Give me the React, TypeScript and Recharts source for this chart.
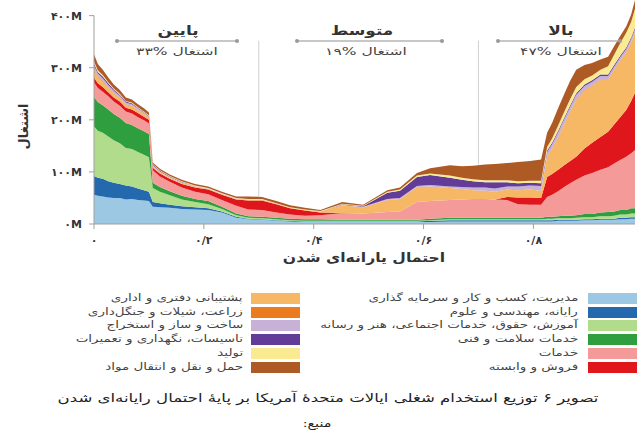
import React from 'react';
import { AreaChart, Area, XAxis, YAxis, ReferenceLine } from 'recharts';

// probability of computerisation (x positions)
const probability = [
  0, 0.007, 0.016, 0.026, 0.036, 0.047, 0.058, 0.069, 0.08, 0.091, 0.1,
  0.107, 0.12, 0.138, 0.16, 0.184, 0.208, 0.233, 0.259, 0.281, 0.306, 0.332, 0.357, 0.384, 0.412,
  0.452, 0.49, 0.534, 0.557, 0.588, 0.612, 0.648, 0.67, 0.69, 0.712, 0.73, 0.752, 0.772, 0.794, 0.814,
  0.825, 0.834, 0.845, 0.856, 0.867, 0.878, 0.893, 0.907, 0.922, 0.936, 0.947, 0.958, 0.969, 0.978, 0.985,
];

// employment per occupation group (millions)
const management = [56,54,53,51,50,50,47,48,46,45,44, 33,32,31,29,28,27,22,12,9,8,6,5,4,4, 4,4,4,4,4,4,5,5,5,5,5,5,5,5,5, 5,5,6,6,6,6,7,7,8,8,8,9,9,10,10];
const computer = [36,35,34,31,29,27,27,24,22,20,18, 9,8,6,5,4,3,2,2,1,1,1,1,1,1, 1,1,1,1,1,2,2,2,2,2,2,2,2,2,2, 2,2,2,2,2,2,2,2,2,2,2,3,3,3,3];
const education = [95,90,88,86,82,78,72,72,70,68,66, 27,22,18,13,10,8,5,3,2,2,2,1,1,1, 1,1,1,1,1,1,2,2,2,2,2,2,2,2,2, 3,3,3,3,3,4,4,4,5,5,6,6,6,7,7];
const healthcare = [57,55,53,52,50,49,48,46,46,45,45, 10,9,8,7,6,6,4,3,3,3,3,3,3,3, 2,2,2,2,2,3,3,3,3,3,3,3,3,3,3, 4,4,4,5,5,5,6,6,7,8,8,9,9,10,10];
const service = [28,27,26,25,24,23,22,22,21,21,20, 24,20,18,16,14,13,13,15,13,13,10,8,7,8, 13,12,15,16,34,34,34,35,36,36,35,34,26,25,25, 38,42,48,55,62,68,74,79,82,86,92,96,102,106,112];
const sales = [9,9,9,8,8,8,7,8,8,7,7, 5,6,6,7,8,9,10,12,17,18,16,12,10,5, 0,0,0,0,0,0,0,0,0,0,0,6,13,14,13, 38,40,41,42,43,44,52,58,63,68,75,82,90,100,110];
const office = [15,12,10,9,8,7,6,6,5,5,4, 3,3,2,2,2,1,1,1,1,1,1,1,1,2, 15,12,23,24,29,28,23,20,17,16,15,14,14,15,14, 39,48,62,78,94,109,111,109,110,100,104,108,110,112,115];
const farming = [2,2,2,1,1,1,1,1,1,1,1, 0,0,0,0,0,0,0,0,0,0,0,0,0,0, 0,0,0,0,0,0,0,0,0,0,0,0,0,0,0, 1,1,1,1,1,1,1,1,1,1,1,1,1,1,1];
const construction = [6,5,5,4,4,3,3,3,3,2,2, 2,1,1,1,1,1,1,1,1,1,0,0,0,0, 1,1,2,2,2,3,3,4,5,6,6,6,7,8,9, 8,8,9,9,9,9,8,7,6,6,6,6,6,6,6];
const installation = [4,3,3,3,2,2,2,2,1,1,1, 1,1,1,1,0,0,0,0,0,0,0,0,0,0, 1,1,12,14,17,19,17,14,12,10,12,8,6,5,5, 3,3,3,3,3,3,3,3,3,3,3,3,3,3,3];
const production = [4,3,3,2,2,2,1,1,1,1,1, 1,1,1,1,1,1,1,1,1,1,1,1,1,1, 1,1,2,2,3,3,4,4,4,4,4,4,4,4,5, 7,8,10,11,12,12,10,9,9,16,20,24,28,30,36];
const transportation = [14,12,10,9,8,7,7,6,6,6,5, 3,3,3,3,3,3,3,3,5,4,4,4,3,2, 3,2,3,4,5,10,20,22,26,30,31,33,37,38,41, 27,30,33,34,35,33,27,24,20,18,16,14,12,14,17];

const xTicks = [0, 0.2, 0.4, 0.6, 0.8];
const yTicks = [0, 100, 200, 300, 400];

const seriesNames = [
  'مدیریت، کسب و کار و سرمایه گذاری',
  'رایانه، مهندسی و علوم',
  'آموزش، حقوق، خدمات اجتماعی، هنر و رسانه',
  'خدمات سلامت و فنی',
  'خدمات',
  'فروش و وابسته',
  'پشتیبانی دفتری و اداری',
  'زراعت، شیلات و جنگل‌داری',
  'ساخت و ساز و استخراج',
  'تاسیسات، نگهداری و تعمیرات',
  'تولید',
  'حمل و نقل و انتقال مواد',
];
const seriesKeys = ['management','computer','education','healthcare','service','sales','office','farming','construction','installation','production','transportation'];
const seriesValues = [management, computer, education, healthcare, service, sales, office, farming, construction, installation, production, transportation];
const seriesColors = ['#9cc8e3','#2468ad','#b0dc8c','#2f9e3f','#f49a98','#e0161d','#f7b865','#ec7a1f','#c7b1d6','#633c97','#faeb93','#ad5a25'];

const data = probability.map((p, i) => {
  const row: Record<string, number> = { p };
  seriesKeys.forEach((k, j) => { row[k] = seriesValues[j][i]; });
  return row;
});

const FA = '۰۱۲۳۴۵۶۷۸۹';
const toFa = (s: string) => s.replace(/[0-9]/g, (d) => FA[+d]);

const font = '"DejaVu Sans", sans-serif';

// centred, horizontally widened text
const WideText = ({ cx, cy, size, sx, bold, color, children }: { cx: number; cy: number; size: number; sx: number; bold?: boolean; color?: string; children: React.ReactNode }) => (
  <div
    dir="rtl"
    style={{
      position: 'absolute', left: cx - 300, top: cy - size * 0.75, width: 600, textAlign: 'center',
      fontFamily: font, fontSize: size, lineHeight: `${size * 1.5}px`, fontWeight: bold ? 'bold' : 'normal',
      color: color || '#333', whiteSpace: 'nowrap', transform: `scaleX(${sx})`, transformOrigin: `${300}px 50%`,
    }}
  >
    {children}
  </div>
);

const Bracket = ({ x1, x2, y }: { x1: number; x2: number; y: number }) => (
  <svg style={{ position: 'absolute', left: 0, top: 0, overflow: 'visible' }} width={637} height={437} pointerEvents="none">
    <line x1={x1} x2={x2} y1={y} y2={y} stroke="#b5b5b5" strokeWidth={1.5} />
    <circle cx={x1} cy={y} r={2} fill="#9a9a9a" />
    <circle cx={x2} cy={y} r={2} fill="#9a9a9a" />
  </svg>
);

const legendRows = [298, 312, 325, 339, 353, 367];

export default function App() {
  return (
    <div style={{ position: 'absolute', left: 0, top: 0, width: 637, height: 437, background: '#fff', overflow: 'hidden' }}>
      <AreaChart width={637} height={260} data={data} margin={{ top: 0, right: 2, left: 0, bottom: 0 }}>
        <XAxis
          dataKey="p"
          type="number"
          domain={[0, 0.985]}
          ticks={xTicks}
          allowDataOverflow
          tickFormatter={(v: number) => toFa(v === 0 ? '0' : v.toFixed(1).replace('.', '/'))}
          axisLine={{ stroke: '#a0a0a0' }}
          tickLine={{ stroke: '#a0a0a0' }}
          tickSize={5}
          tickMargin={7}
          height={36}
          tick={{ fontSize: 11, fill: '#333', fontFamily: font, fontWeight: 'bold', letterSpacing: 2 }}
        />
        <YAxis
          type="number"
          domain={[0, 430]}
          ticks={yTicks}
          width={94}
          axisLine={false}
          tickLine={{ stroke: '#a0a0a0' }}
          tickSize={5}
          tickMargin={5}
          tickFormatter={(v: number) => toFa(String(v)) + 'M'}
          tick={{ fontSize: 11, fill: '#333', fontFamily: font, fontWeight: 'bold', letterSpacing: 2 }}
        />
        {seriesKeys.map((k, j) => (
          <Area
            key={k}
            dataKey={k}
            name={seriesNames[j]}
            stackId="1"
            type="linear"
            fill={seriesColors[j]}
            fillOpacity={1}
            stroke="none"
            isAnimationActive={false}
          />
        ))}
        <ReferenceLine segment={[{ x: 0, y: 0 }, { x: 0, y: 400 }]} stroke="#a0a0a0" />
        <ReferenceLine segment={[{ x: 0.3, y: 52 }, { x: 0.3, y: 352 }]} stroke="#d0d0d0" />
        <ReferenceLine segment={[{ x: 0.7, y: 114 }, { x: 0.7, y: 352 }]} stroke="#d0d0d0" />
      </AreaChart>

      <Bracket x1={117} x2={237} y={41} />
      <Bracket x1={297} x2={442} y={41} />
      <Bracket x1={498} x2={620} y={41} />
      <WideText cx={178} cy={31} size={13} sx={1.3} bold>پایین</WideText>
      <WideText cx={362} cy={31} size={13} sx={1.3} bold>متوسط</WideText>
      <WideText cx={561} cy={31} size={13} sx={1.3} bold>بالا</WideText>
      <WideText cx={177} cy={51} size={10} sx={1.55} color="#444">اشتغال %۳۳</WideText>
      <WideText cx={366} cy={51} size={10} sx={1.55} color="#444">اشتغال %۱۹</WideText>
      <WideText cx={561} cy={51} size={10} sx={1.55} color="#444">اشتغال %۴۷</WideText>

      <div dir="rtl" style={{ position: 'absolute', left: -27, top: 119, width: 100, textAlign: 'center', fontFamily: font, fontSize: 13, fontWeight: 'bold', color: '#333', transform: 'rotate(-90deg)', whiteSpace: 'nowrap' }}>اشتغال</div>
      <WideText cx={364} cy={258} size={13} sx={1.2} bold>احتمال یارانه‌ای شدن</WideText>

      {seriesNames.map((name, j) => {
        const col = j < 6 ? 0 : 1;
        const y = legendRows[j % 6];
        const swLeft = col === 0 ? 588 : 251;
        const textRight = col === 0 ? 578 : 243;
        return (
          <React.Fragment key={name}>
            <div style={{ position: 'absolute', left: swLeft, top: y - 5, width: 49, height: 11, background: seriesColors[j] }} />
            <div
              dir="rtl"
              style={{
                position: 'absolute', right: 637 - textRight, top: y - 7, fontFamily: font, fontSize: 10, lineHeight: '14px',
                color: '#444', whiteSpace: 'nowrap', transform: 'scaleX(1.35)', transformOrigin: '100% 50%',
              }}
            >
              {name}
            </div>
          </React.Fragment>
        );
      })}

      <WideText cx={328} cy={398} size={12} sx={1.38} color="#222">
        تصویر ۶ توزیع استخدام شغلی ایالات متحدۀ آمریکا بر پایۀ احتمال رایانه‌ای شدن
      </WideText>
      <WideText cx={317} cy={424} size={11} sx={1.3} color="#222">منبع:</WideText>
    </div>
  );
}
